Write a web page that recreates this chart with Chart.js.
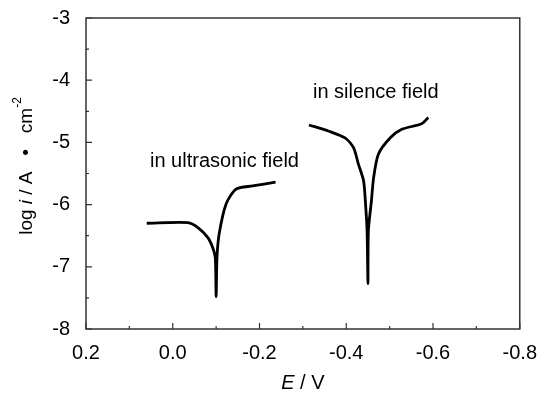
<!DOCTYPE html>
<html>
<head>
<meta charset="utf-8">
<script src="https://cdn.jsdelivr.net/npm/chart.js@4/dist/chart.umd.min.js"></script>
<style>
  html, body { margin: 0; padding: 0; background: #fff; }
  #wrap { width: 541px; height: 396px; }
</style>
</head>
<body>
<div id="wrap"><canvas id="tafel" width="541" height="396"></canvas></div>
<script>
// polarization curves
const ultraE = [0.06, -0.035, -0.058, -0.081, -0.092, -0.098, -0.100, -0.102, -0.107, -0.123, -0.146, -0.184, -0.237];
const ultraLogI = [-6.30, -6.29, -6.37, -6.53, -6.69, -6.85, -7.48, -6.85, -6.47, -5.99, -5.75, -5.70, -5.64];

const silenceE = [-0.314, -0.360, -0.398, -0.417, -0.428, -0.440, -0.445, -0.448, -0.450, -0.451, -0.458, -0.463, -0.474, -0.501, -0.528, -0.574, -0.589];
const silenceLogI = [-4.72, -4.82, -4.93, -5.09, -5.35, -5.62, -6.05, -6.42, -7.27, -6.42, -5.94, -5.57, -5.19, -4.93, -4.79, -4.70, -4.60];

const xTicks = [0.2, 0.0, -0.2, -0.4, -0.6, -0.8];
const yTicks = [-3, -4, -5, -6, -7, -8];

const FONT = '"Liberation Sans", Arial, sans-serif';

function toPoints(xs, ys) {
    return xs.map((x, i) => ({ x: x, y: ys[i] }));
}

// frame + inward ticks + axis titles + curve labels
const decorPlugin = {
    id: 'decor',
    afterDraw(chart) {
        const ctx = chart.ctx;
        const a = chart.chartArea;
        const xs = chart.scales.x;
        const ys = chart.scales.y;
        ctx.save();
        ctx.strokeStyle = '#333';
        ctx.lineWidth = 1.5;
        ctx.strokeRect(a.left, a.top, a.right - a.left, a.bottom - a.top);

        ctx.lineWidth = 1.2;
        ctx.beginPath();
        for (let v = 0.2; v >= -0.8001; v -= 0.1) {
            const px = xs.getPixelForValue(v);
            const major = Math.abs(Math.round(v * 10)) % 2 === 0;
            const len = major ? 6 : 3;
            ctx.moveTo(px, a.bottom); ctx.lineTo(px, a.bottom - len);
        }
        for (let v = -3; v >= -8.001; v -= 0.5) {
            const py = ys.getPixelForValue(v);
            const major = Math.abs(v - Math.round(v)) < 0.01;
            const len = major ? 6 : 3;
            ctx.moveTo(a.left, py); ctx.lineTo(a.left + len, py);
        }
        ctx.stroke();

        ctx.fillStyle = '#000';
        ctx.textBaseline = 'middle';

        // x title: E / V
        const cx = (a.left + a.right) / 2;
        ctx.font = 'italic 20px ' + FONT;
        const wE = ctx.measureText('E').width;
        ctx.font = '20px ' + FONT;
        const wRest = ctx.measureText(' / V').width;
        let sx = cx - (wE + wRest) / 2;
        ctx.textAlign = 'left';
        ctx.font = 'italic 20px ' + FONT;
        ctx.fillText('E', sx, 383);
        ctx.font = '20px ' + FONT;
        ctx.fillText(' / V', sx + wE, 383);

        // y title: log i / A • cm-2 (rotated)
        ctx.save();
        ctx.translate(27, 166);
        ctx.rotate(-Math.PI / 2);
        const parts = [
            { t: 'log ', f: '19px ' + FONT, dy: 0 },
            { t: 'i', f: 'italic 19px ' + FONT, dy: 0 },
            { t: ' / A   \u2022   cm', f: '19px ' + FONT, dy: 0 },
            { t: '-2', f: '12px ' + FONT, dy: -9 }
        ];
        let total = 0;
        parts.forEach(p => { ctx.font = p.f; p.w = ctx.measureText(p.t).width; total += p.w; });
        let px = -total / 2;
        parts.forEach(p => {
            ctx.font = p.f;
            ctx.fillText(p.t, px, p.dy);
            px += p.w;
        });
        ctx.restore();

        // curve labels
        ctx.font = '20px ' + FONT;
        ctx.textAlign = 'left';
        ctx.fillText('in ultrasonic field', 150, 161);
        ctx.fillText('in silence field', 313, 92);
        ctx.restore();
    }
};

new Chart(document.getElementById('tafel'), {
    type: 'scatter',
    data: {
        datasets: [
            {
                label: 'in ultrasonic field',
                data: toPoints(ultraE, ultraLogI),
                showLine: true,
                borderColor: '#000',
                borderWidth: 2.8,
                pointRadius: 0,
                tension: 0.25
            },
            {
                label: 'in silence field',
                data: toPoints(silenceE, silenceLogI),
                showLine: true,
                borderColor: '#000',
                borderWidth: 2.8,
                pointRadius: 0,
                tension: 0.25
            }
        ]
    },
    options: {
        responsive: false,
        animation: false,
        maintainAspectRatio: false,
        devicePixelRatio: 1,
        layout: { padding: { top: 16, right: 19, left: 0, bottom: 0 } },
        plugins: {
            legend: { display: false },
            tooltip: { enabled: false }
        },
        scales: {
            x: {
                type: 'linear',
                reverse: true,
                min: -0.8,
                max: 0.2,
                afterBuildTicks: scale => { scale.ticks = xTicks.map(v => ({ value: v })); },
                afterFit: scale => { scale.height = 67; },
                grid: { display: false },
                border: { display: false },
                ticks: {
                    color: '#000',
                    font: { family: FONT, size: 20 },
                    padding: 4,
                    maxRotation: 0,
                    callback: v => v.toFixed(1)
                }
            },
            y: {
                type: 'linear',
                min: -8,
                max: -3,
                afterBuildTicks: scale => { scale.ticks = yTicks.map(v => ({ value: v })); },
                afterFit: scale => { scale.width = 86; },
                grid: { display: false },
                border: { display: false },
                ticks: {
                    color: '#000',
                    font: { family: FONT, size: 20, lineHeight: 1 },
                    padding: 8,
                    callback: v => String(v)
                }
            }
        }
    },
    plugins: [decorPlugin]
});
</script>
</body>
</html>
